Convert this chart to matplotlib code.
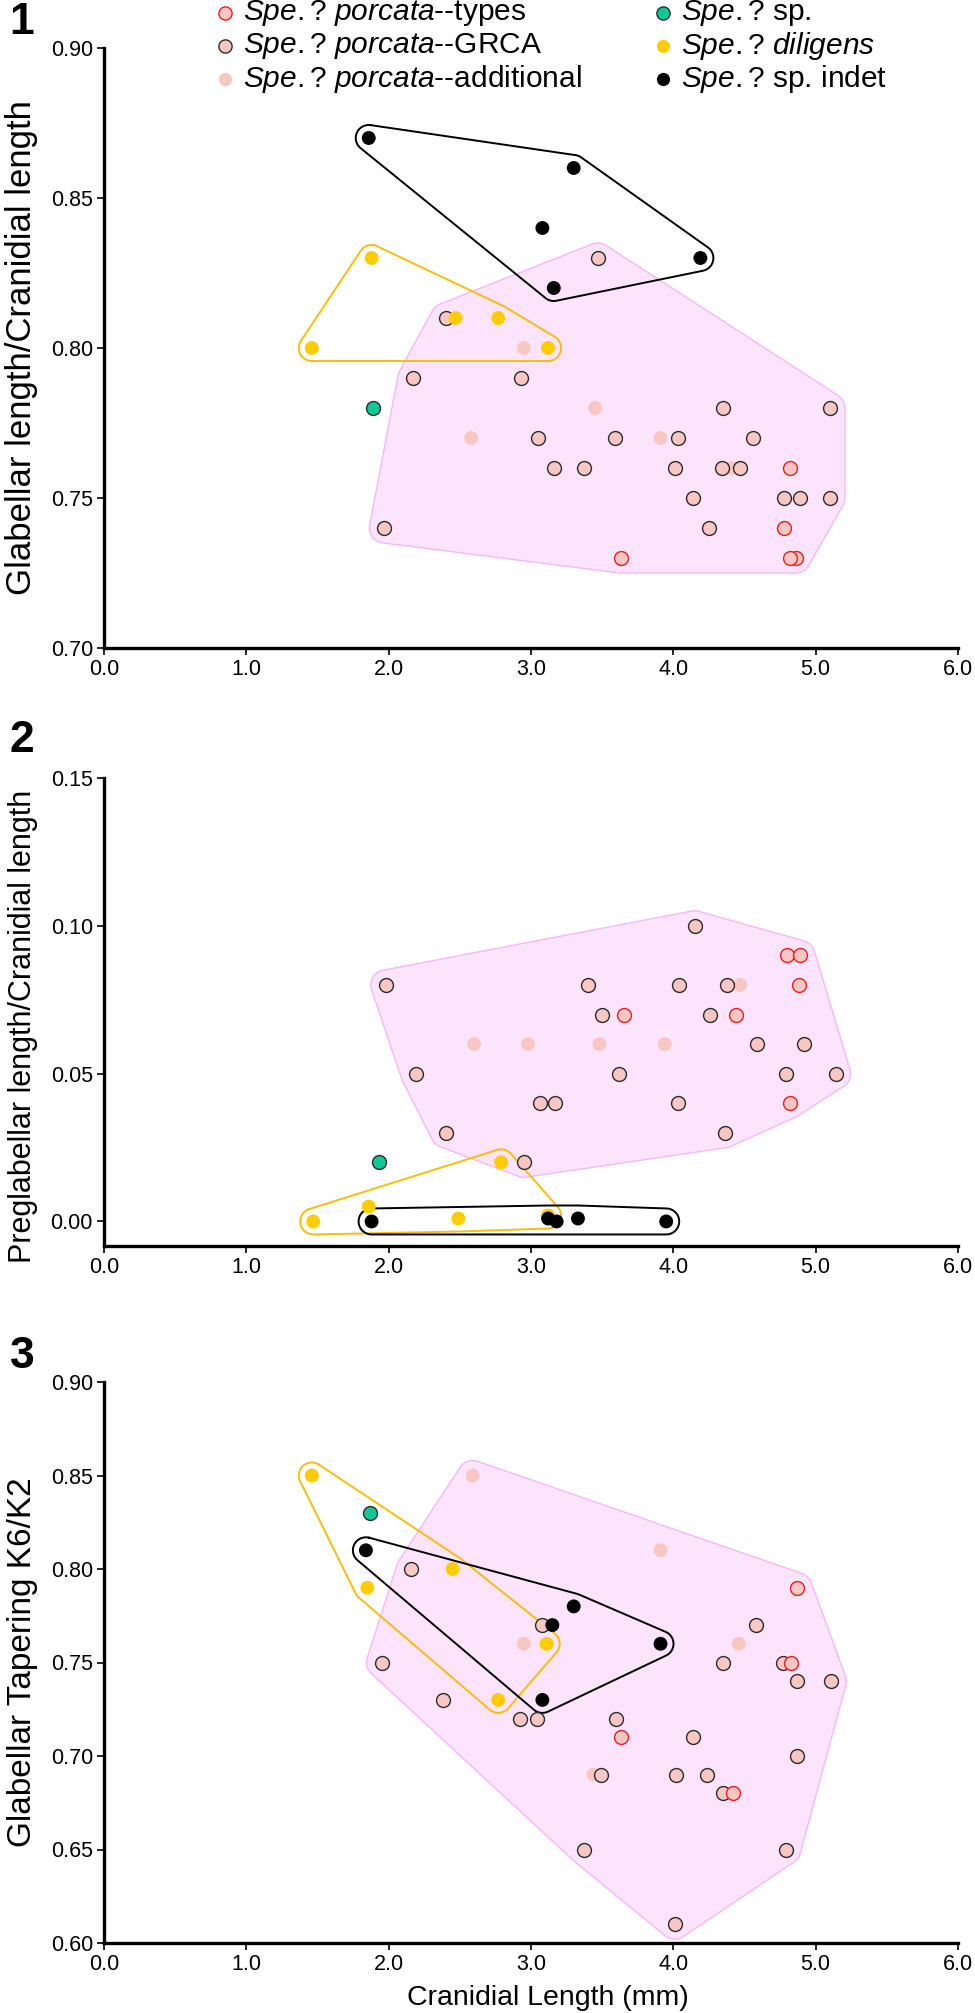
import numpy as np
import matplotlib
matplotlib.use("Agg")
import matplotlib.pyplot as plt
from matplotlib.lines import Line2D
from matplotlib.ticker import FormatStrFormatter

plt.rcParams['font.family'] = ['Liberation Sans', 'DejaVu Sans']
plt.rcParams['mathtext.fontset'] = 'custom'
plt.rcParams['mathtext.rm'] = 'Liberation Sans'
plt.rcParams['mathtext.it'] = 'Liberation Sans:italic'

# ---------------- data ----------------
# Panel 1: Glabellar length / Cranidial length
p1_types_x = [4.82, 4.78, 3.63, 4.86, 4.82]
p1_types_y = [0.76, 0.74, 0.73, 0.73, 0.73]
p1_grca_x = [2.40, 2.17, 2.93, 3.05, 3.59, 4.03, 4.35, 5.10, 4.56, 3.16, 3.37,
             4.01, 4.34, 4.47, 4.14, 4.78, 4.89, 5.10, 4.25, 1.97, 3.47]
p1_grca_y = [0.81, 0.79, 0.79, 0.77, 0.77, 0.77, 0.78, 0.78, 0.77, 0.76, 0.76,
             0.76, 0.76, 0.76, 0.75, 0.75, 0.75, 0.75, 0.74, 0.74, 0.83]
p1_add_x = [2.95, 3.45, 2.58, 3.91, 4.41]
p1_add_y = [0.80, 0.78, 0.77, 0.77, 0.76]
p1_sp_x = [1.89]
p1_sp_y = [0.78]
p1_dil_x = [1.88, 1.46, 2.47, 2.77, 3.12]
p1_dil_y = [0.83, 0.80, 0.81, 0.81, 0.80]
p1_ind_x = [1.86, 3.30, 3.08, 3.16, 4.19]
p1_ind_y = [0.87, 0.86, 0.84, 0.82, 0.83]

# Panel 2: Preglabellar length / Cranidial length
p2_types_x = [3.65, 4.80, 4.89, 4.88, 4.44, 4.82]
p2_types_y = [0.07, 0.09, 0.09, 0.08, 0.07, 0.04]
p2_grca_x = [1.98, 3.40, 4.04, 3.50, 2.19, 3.62, 3.06, 3.17, 4.03, 2.40, 2.95,
             4.15, 4.38, 4.26, 4.59, 4.92, 4.79, 5.14, 4.36]
p2_grca_y = [0.08, 0.08, 0.08, 0.07, 0.05, 0.05, 0.04, 0.04, 0.04, 0.03, 0.02,
             0.10, 0.08, 0.07, 0.06, 0.06, 0.05, 0.05, 0.03]
p2_add_x = [2.60, 2.98, 3.48, 3.94, 4.47]
p2_add_y = [0.06, 0.06, 0.06, 0.06, 0.08]
p2_sp_x = [1.93]
p2_sp_y = [0.02]
p2_dil_x = [1.47, 1.86, 2.49, 2.79, 3.12]
p2_dil_y = [0.000, 0.005, 0.001, 0.020, 0.002]
p2_ind_x = [1.88, 3.12, 3.18, 3.33, 3.95]
p2_ind_y = [0.000, 0.001, 0.000, 0.001, 0.000]

# Panel 3: Glabellar tapering K6/K2
p3_types_x = [4.87, 4.83, 3.63, 4.42]
p3_types_y = [0.79, 0.75, 0.71, 0.68]
p3_grca_x = [2.16, 1.95, 2.38, 2.92, 3.04, 3.08, 4.58, 4.35, 4.77, 4.87, 5.11,
             3.60, 4.14, 4.87, 3.49, 4.02, 4.24, 4.35, 3.37, 4.79, 4.01]
p3_grca_y = [0.80, 0.75, 0.73, 0.72, 0.72, 0.77, 0.77, 0.75, 0.75, 0.74, 0.74,
             0.72, 0.71, 0.70, 0.69, 0.69, 0.69, 0.68, 0.65, 0.65, 0.61]
p3_add_x = [2.59, 3.91, 4.46, 2.95, 3.44]
p3_add_y = [0.85, 0.81, 0.76, 0.76, 0.69]
p3_sp_x = [1.87]
p3_sp_y = [0.83]
p3_dil_x = [1.46, 2.45, 1.85, 3.11, 2.77]
p3_dil_y = [0.85, 0.80, 0.79, 0.76, 0.73]
p3_ind_x = [1.84, 3.30, 3.15, 3.91, 3.08]
p3_ind_y = [0.81, 0.78, 0.77, 0.76, 0.73]

x_ticks = [0, 1, 2, 3, 4, 5, 6]
p1_yticks = [0.70, 0.75, 0.80, 0.85, 0.90]
p2_yticks = [0.00, 0.05, 0.10, 0.15]
p3_yticks = [0.60, 0.65, 0.70, 0.75, 0.80, 0.85, 0.90]

labels = {
    'types': r'$\mathit{Spe.}$? $\mathit{porcata}$--types',
    'grca': r'$\mathit{Spe.}$? $\mathit{porcata}$--GRCA',
    'add': r'$\mathit{Spe.}$? $\mathit{porcata}$--additional',
    'sp': r'$\mathit{Spe.}$? sp.',
    'dil': r'$\mathit{Spe.}$? $\mathit{diligens}$',
    'ind': r'$\mathit{Spe.}$? sp. indet',
}

# ---------------- styles ----------------
PINK = '#F8C6C3'
RED = '#E8201E'
DARK = '#2B2B2B'
GREEN = '#10C896'
YELLOW = '#FFCC00'
HULL_FILL = '#FCE4FC'
HULL_EDGE = '#F6B9F6'
YEL_LINE = '#F7BE0C'

styles = {
    'add': dict(c=PINK, edgecolors='none', linewidths=0),
    'grca': dict(c=PINK, edgecolors=DARK, linewidths=1.0),
    'types': dict(c=PINK, edgecolors=RED, linewidths=1.0),
    'sp': dict(c=GREEN, edgecolors=DARK, linewidths=1.0),
    'dil': dict(c=YELLOW, edgecolors='none', linewidths=0),
    'ind': dict(c='black', edgecolors='none', linewidths=0),
}
MS = 100

W, H = 975, 2013
fig = plt.figure(figsize=(W / 100, H / 100), dpi=100)


def axes_px(left, top, right, bottom):
    return fig.add_axes([left / W, 1 - bottom / H, (right - left) / W, (bottom - top) / H])


def convex_hull(pts):
    pts = sorted(set(map(tuple, pts)))
    if len(pts) < 3:
        return np.array(pts)

    def cross(o, a, b):
        return (a[0] - o[0]) * (b[1] - o[1]) - (a[1] - o[1]) * (b[0] - o[0])
    lower = []
    for p in pts:
        while len(lower) >= 2 and cross(lower[-2], lower[-1], p) <= 0:
            lower.pop()
        lower.append(p)
    upper = []
    for p in reversed(pts):
        while len(upper) >= 2 and cross(upper[-2], upper[-1], p) <= 0:
            upper.pop()
        upper.append(p)
    return np.array(lower[:-1] + upper[:-1])


def rounded_hull(ax, xs, ys, pad, n_arc=24):
    """Convex hull of the points, grown by `pad` display pixels with round corners."""
    disp = ax.transData.transform(np.column_stack([xs, ys]))
    Hh = convex_hull(disp)
    n = len(Hh)
    out = []
    for i in range(n):
        prev, cur, nxt = Hh[i - 1], Hh[i], Hh[(i + 1) % n]
        d1 = cur - prev
        d2 = nxt - cur
        a1 = np.arctan2(-d1[0], d1[1])
        a2 = np.arctan2(-d2[0], d2[1])
        da = (a2 - a1) % (2 * np.pi)
        ang = a1 + np.linspace(0, da, n_arc)
        out.append(cur + pad * np.column_stack([np.cos(ang), np.sin(ang)]))
    out = np.vstack(out)
    out = np.vstack([out, out[:1]])
    return ax.transData.inverted().transform(out)


def style_axes(ax, ylim, yticks, yfmt):
    ax.set_xlim(0, 6)
    ax.set_ylim(*ylim)
    ax.set_xticks(x_ticks)
    ax.set_yticks(yticks)
    ax.xaxis.set_major_formatter(FormatStrFormatter('%.1f'))
    ax.yaxis.set_major_formatter(FormatStrFormatter(yfmt))
    for s in ['top', 'right']:
        ax.spines[s].set_visible(False)
    for s in ['left', 'bottom']:
        ax.spines[s].set_linewidth(2.4)
    ax.tick_params(direction='out', length=5, width=1.2, labelsize=15.5, pad=3)


def draw_panel(ax, data, pink_pad=15, line_pad=13):
    px = data['types'][0] + data['grca'][0] + data['add'][0]
    py = data['types'][1] + data['grca'][1] + data['add'][1]
    hp = rounded_hull(ax, px, py, pink_pad)
    ax.fill(hp[:, 0], hp[:, 1], facecolor=HULL_FILL, edgecolor=HULL_EDGE, lw=1.0, zorder=1)
    hy = rounded_hull(ax, data['dil'][0], data['dil'][1], line_pad)
    ax.plot(hy[:, 0], hy[:, 1], color=YEL_LINE, lw=1.4, zorder=2)
    hb = rounded_hull(ax, data['ind'][0], data['ind'][1], line_pad)
    ax.plot(hb[:, 0], hb[:, 1], color='black', lw=1.4, zorder=2)
    for k, z in [('add', 3), ('grca', 4), ('types', 5), ('sp', 6), ('dil', 7), ('ind', 8)]:
        ax.scatter(data[k][0], data[k][1], s=MS, zorder=z, clip_on=False, **styles[k])


ax1 = axes_px(104, 48, 958, 648)
style_axes(ax1, (0.70, 0.90), p1_yticks, '%.2f')
ax2 = axes_px(104, 778, 958, 1246)
style_axes(ax2, (-0.0083, 0.15), p2_yticks, '%.2f')
ax3 = axes_px(104, 1382, 958, 1943)
style_axes(ax3, (0.60, 0.90), p3_yticks, '%.2f')

d1 = {'types': (p1_types_x, p1_types_y), 'grca': (p1_grca_x, p1_grca_y),
      'add': (p1_add_x, p1_add_y), 'sp': (p1_sp_x, p1_sp_y),
      'dil': (p1_dil_x, p1_dil_y), 'ind': (p1_ind_x, p1_ind_y)}
d2 = {'types': (p2_types_x, p2_types_y), 'grca': (p2_grca_x, p2_grca_y),
      'add': (p2_add_x, p2_add_y), 'sp': (p2_sp_x, p2_sp_y),
      'dil': (p2_dil_x, p2_dil_y), 'ind': (p2_ind_x, p2_ind_y)}
d3 = {'types': (p3_types_x, p3_types_y), 'grca': (p3_grca_x, p3_grca_y),
      'add': (p3_add_x, p3_add_y), 'sp': (p3_sp_x, p3_sp_y),
      'dil': (p3_dil_x, p3_dil_y), 'ind': (p3_ind_x, p3_ind_y)}

draw_panel(ax1, d1)
draw_panel(ax2, d2)
draw_panel(ax3, d3)

ax1.set_ylabel('Glabellar length/Cranidial length', fontsize=25)
ax2.set_ylabel('Preglabellar length/Cranidial length', fontsize=22)
ax3.set_ylabel('Glabellar Tapering K6/K2', fontsize=24)
for ax in (ax1, ax2, ax3):
    ax.yaxis.set_label_coords(-(104 - 38) / 854, 0.5)
ax2.yaxis.set_label_coords(-(104 - 38) / 854, 0.47)
ax3.set_xlabel('Cranidial Length (mm)', fontsize=20.5, labelpad=2)
ax3.xaxis.set_label_coords((548 - 104) / 854, -0.075)

# panel numbers
for num, ypx in [('1', 22), ('2', 740), ('3', 1356)]:
    fig.text(22 / W, 1 - ypx / H, num, fontsize=32, fontweight='bold',
             ha='center', va='center')

# legend (manual, two columns)
leg_rows = [13, 46, 79]
leg_cols = [(225, 243, ['types', 'grca', 'add']), (663, 681, ['sp', 'dil', 'ind'])]
for mx, tx, keys in leg_cols:
    for k, ry in zip(keys, leg_rows):
        st = styles[k]
        fig.add_artist(Line2D([mx / W], [1 - ry / H], transform=fig.transFigure,
                              marker='o', markersize=9.5, linestyle='none',
                              markerfacecolor=st['c'],
                              markeredgecolor=st['edgecolors'] if st['edgecolors'] != 'none' else st['c'],
                              markeredgewidth=st['linewidths'] if st['linewidths'] else 0))
        fig.text(tx / W, 1 - ry / H, labels[k], fontsize=21.5, ha='left', va='center')

fig.savefig('out.png', dpi=100)
